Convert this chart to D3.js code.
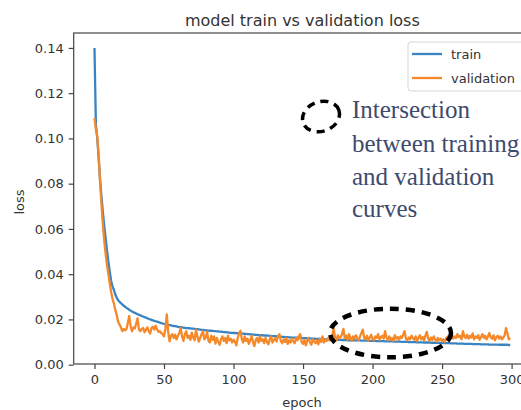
<!DOCTYPE html>
<html>
<head>
<meta charset="utf-8">
<script src="https://cdn.jsdelivr.net/npm/d3@7"></script>
<style>
html,body{margin:0;padding:0;background:#fff;overflow:hidden;}
svg{display:block;}
</style>
</head>
<body>
<svg id="chart" width="521" height="410"></svg>
<script>
const title = "model train vs validation loss";
const xLabel = "epoch";
const yLabel = "loss";
const seriesNames = ["train", "validation"];
const xTicks = [0, 50, 100, 150, 200, 250, 300];
const yTicks = [0.00, 0.02, 0.04, 0.06, 0.08, 0.10, 0.12, 0.14];
const noteLines = ["Intersection", "between training", "and validation", "curves"];

const trainLoss = [
.1400,.1060,.1000,.0910,.0820,.0745,.0675,.0615,.0560,.0505,
.0455,.0410,.0370,.0345,.0330,.0310,.0295,.0285,.0278,.0272,
.0266,.0261,.0256,.0251,.0247,.0243,.0239,.0235,.0232,.0229,
.0226,.0223,.0220,.0218,.0215,.0213,.0210,.0208,.0205,.0203,
.0200,.0198,.0196,.0194,.0192,.0190,.0188,.0186,.0184,.0182,
.0180,.0179,.0177,.0176,.0175,.0174,.0172,.0171,.0170,.0169,
.0167,.0166,.0166,.0165,.0164,.0163,.0162,.0162,.0161,.0160,
.0159,.0159,.0158,.0157,.0157,.0156,.0155,.0154,.0154,.0153,
.0152,.0152,.0151,.0150,.0150,.0149,.0148,.0148,.0147,.0147,
.0146,.0146,.0145,.0144,.0144,.0143,.0143,.0142,.0141,.0141,
.0140,.0140,.0139,.0139,.0138,.0138,.0137,.0137,.0136,.0136,
.0135,.0135,.0134,.0134,.0133,.0133,.0132,.0132,.0131,.0131,
.0130,.0130,.0129,.0129,.0128,.0128,.0127,.0127,.0126,.0126,
.0126,.0125,.0125,.0124,.0124,.0123,.0123,.0122,.0122,.0122,
.0121,.0121,.0120,.0120,.0120,.0119,.0119,.0118,.0118,.0118,
.0117,.0117,.0117,.0116,.0116,.0116,.0115,.0115,.0115,.0114,
.0114,.0114,.0114,.0113,.0113,.0113,.0112,.0112,.0112,.0112,
.0111,.0111,.0111,.0111,.0110,.0110,.0110,.0110,.0109,.0109,
.0109,.0109,.0108,.0108,.0108,.0108,.0108,.0107,.0107,.0107,
.0107,.0107,.0106,.0106,.0106,.0106,.0106,.0105,.0105,.0105,
.0105,.0105,.0105,.0104,.0104,.0104,.0104,.0104,.0104,.0103,
.0103,.0103,.0103,.0103,.0103,.0102,.0102,.0102,.0102,.0102,
.0102,.0101,.0101,.0101,.0101,.0101,.0100,.0100,.0100,.0100,
.0100,.0100,.0099,.0099,.0099,.0099,.0099,.0098,.0098,.0098,
.0098,.0098,.0097,.0097,.0097,.0097,.0096,.0096,.0096,.0096,
.0096,.0095,.0095,.0095,.0095,.0095,.0094,.0094,.0094,.0094,
.0094,.0093,.0093,.0093,.0093,.0093,.0092,.0092,.0092,.0092,
.0092,.0092,.0091,.0091,.0091,.0091,.0091,.0091,.0090,.0090,
.0090,.0090,.0090,.0090,.0089,.0089,.0089,.0089,.0089,.0089,
.0089,.0088,.0088,.0088,.0088,.0088,.0088,.0088,.0087,.0088
];

const valLoss = [
.109,.104,.101,.093,.081,.071,.062,.055,.049,.044,
.040,.036,.032,.029,.027,.024,.022,.019,.0178,.0165,
.0148,.0158,.0152,.0157,.0185,.0215,.0170,.0148,.0165,.0160,
.0182,.0205,.0155,.0148,.0158,.0162,.0143,.0155,.0165,.0148,
.0138,.0162,.0168,.0155,.0172,.0158,.0145,.0148,.0140,.0135,
.0125,.0158,.0222,.0145,.0103,.0128,.0135,.0118,.0132,.0112,
.0128,.0140,.0162,.0125,.0105,.0135,.0148,.0118,.0128,.0110,
.0142,.0120,.0108,.0155,.0125,.0102,.0118,.0135,.0148,.0112,
.0120,.0145,.0105,.0098,.0128,.0110,.0125,.0093,.0118,.0102,
.0088,.0112,.0125,.0105,.0118,.0095,.0128,.0108,.0115,.0098,
.0110,.0102,.0085,.0118,.0138,.0150,.0112,.0098,.0125,.0105,
.0115,.0092,.0108,.0128,.0100,.0082,.0110,.0118,.0098,.0125,
.0105,.0112,.0095,.0118,.0102,.0090,.0112,.0125,.0098,.0108,
.0118,.0102,.0128,.0135,.0105,.0095,.0112,.0100,.0118,.0092,
.0108,.0098,.0115,.0102,.0095,.0118,.0108,.0125,.0135,.0100,
.0092,.0110,.0085,.0105,.0118,.0098,.0088,.0112,.0102,.0095,
.0108,.0090,.0115,.0100,.0125,.0098,.0110,.0105,.0118,.0108,
.0112,.0125,.0160,.0118,.0108,.0130,.0115,.0122,.0135,.0158,
.0118,.0128,.0110,.0135,.0120,.0105,.0125,.0115,.0130,.0118,
.0108,.0125,.0140,.0155,.0118,.0112,.0128,.0105,.0120,.0132,
.0115,.0108,.0125,.0118,.0135,.0110,.0122,.0128,.0115,.0148,
.0120,.0108,.0125,.0112,.0118,.0105,.0130,.0115,.0122,.0110,
.0125,.0118,.0132,.0148,.0115,.0108,.0120,.0112,.0128,.0118,
.0110,.0125,.0105,.0118,.0130,.0112,.0122,.0108,.0128,.0145,
.0115,.0105,.0120,.0110,.0125,.0112,.0102,.0118,.0108,.0115,
.0105,.0112,.0100,.0118,.0125,.0108,.0120,.0132,.0115,.0125,
.0118,.0135,.0122,.0128,.0112,.0148,.0125,.0118,.0132,.0115,
.0128,.0120,.0138,.0112,.0125,.0118,.0130,.0110,.0122,.0135,
.0118,.0128,.0112,.0125,.0140,.0120,.0115,.0130,.0108,.0122,
.0128,.0115,.0125,.0112,.0120,.0130,.0162,.0138,.0112,.0118
];

const colors = ["#3a84c4", "#f5892a"];

const svg = d3.select("#chart");
const L = 73.7, R = 531, T = 33, B = 364;
const x = d3.scaleLinear().domain([-14.95, 313.95]).range([L, R]);
const y = d3.scaleLinear().domain([0.0003, 0.1466]).range([B, T]);

const font = "'DejaVu Sans', sans-serif";
const textColor = "#333";

// lines
const line = d3.line().x((d, i) => x(i)).y(d => y(d));
svg.append("path").datum(trainLoss).attr("d", line)
  .attr("fill", "none").attr("stroke", colors[0]).attr("stroke-width", 2.3).attr("stroke-linejoin", "round");
svg.append("path").datum(valLoss).attr("d", line)
  .attr("fill", "none").attr("stroke", colors[1]).attr("stroke-width", 2.3).attr("stroke-linejoin", "round");

// axes
const xAxis = d3.axisBottom(x).tickValues(xTicks).tickSize(5).tickPadding(6).tickFormat(d3.format("d"));
const yAxis = d3.axisLeft(y).tickValues(yTicks).tickSize(5).tickPadding(5).tickFormat(d3.format(".2f"));
const gx = svg.append("g").attr("transform", `translate(0,${B})`).call(xAxis);
const gy = svg.append("g").attr("transform", `translate(${L},0)`).call(yAxis);
[gx, gy].forEach(g => {
  g.select(".domain").remove();
  g.selectAll(".tick line").attr("stroke", "#444").attr("stroke-width", 1.2);
  g.selectAll(".tick text").attr("fill", textColor).style("font-family", font).style("font-size", "13px");
});

// spines
svg.append("rect").attr("x", L).attr("y", T).attr("width", R - L).attr("height", B - T)
  .attr("fill", "none").attr("stroke", "#444").attr("stroke-width", 1.2);

// title and labels
svg.append("text").attr("x", (L + R) / 2).attr("y", 26).attr("text-anchor", "middle")
  .style("font-family", font).style("font-size", "16px").attr("fill", textColor).text(title);
svg.append("text").attr("x", 302).attr("y", 407).attr("text-anchor", "middle")
  .style("font-family", font).style("font-size", "13px").attr("fill", textColor).text(xLabel);
svg.append("text").attr("transform", "translate(24,202) rotate(-90)").attr("text-anchor", "middle")
  .style("font-family", font).style("font-size", "13px").attr("fill", textColor).text(yLabel);

// legend
const lg = svg.append("g");
lg.append("rect").attr("x", 408).attr("y", 42).attr("width", 116).attr("height", 49).attr("rx", 3)
  .attr("fill", "#fff").attr("fill-opacity", 0.85).attr("stroke", "#d6d6d6");
seriesNames.forEach((n, i) => {
  const yy = 54 + i * 24;
  lg.append("line").attr("x1", 412).attr("x2", 442).attr("y1", yy).attr("y2", yy)
    .attr("stroke", colors[i]).attr("stroke-width", 2.3);
  lg.append("text").attr("x", 451).attr("y", yy + 4.5).style("font-family", font).style("font-size", "13px")
    .attr("fill", textColor).text(n);
});

// annotations
svg.append("ellipse").attr("cx", 390.5).attr("cy", 333).attr("rx", 60.5).attr("ry", 24.3)
  .attr("fill", "none").attr("stroke", "#000").attr("stroke-width", 4.5).attr("stroke-dasharray", "9 7");
svg.append("ellipse").attr("cx", 321).attr("cy", 116.5).attr("rx", 19).attr("ry", 14.8)
  .attr("fill", "none").attr("stroke", "#000").attr("stroke-width", 3.5).attr("stroke-dasharray", "8 6")
  .attr("transform", "rotate(-20,321,116.5)");
const noteY = [118.3, 151.7, 185, 217];
noteLines.forEach((t, i) => {
  svg.append("text").attr("x", 352).attr("y", noteY[i])
    .style("font-family", "'Liberation Serif', serif").style("font-size", "25px")
    .attr("fill", "#3e4a6d").text(t);
});
</script>
</body>
</html>
